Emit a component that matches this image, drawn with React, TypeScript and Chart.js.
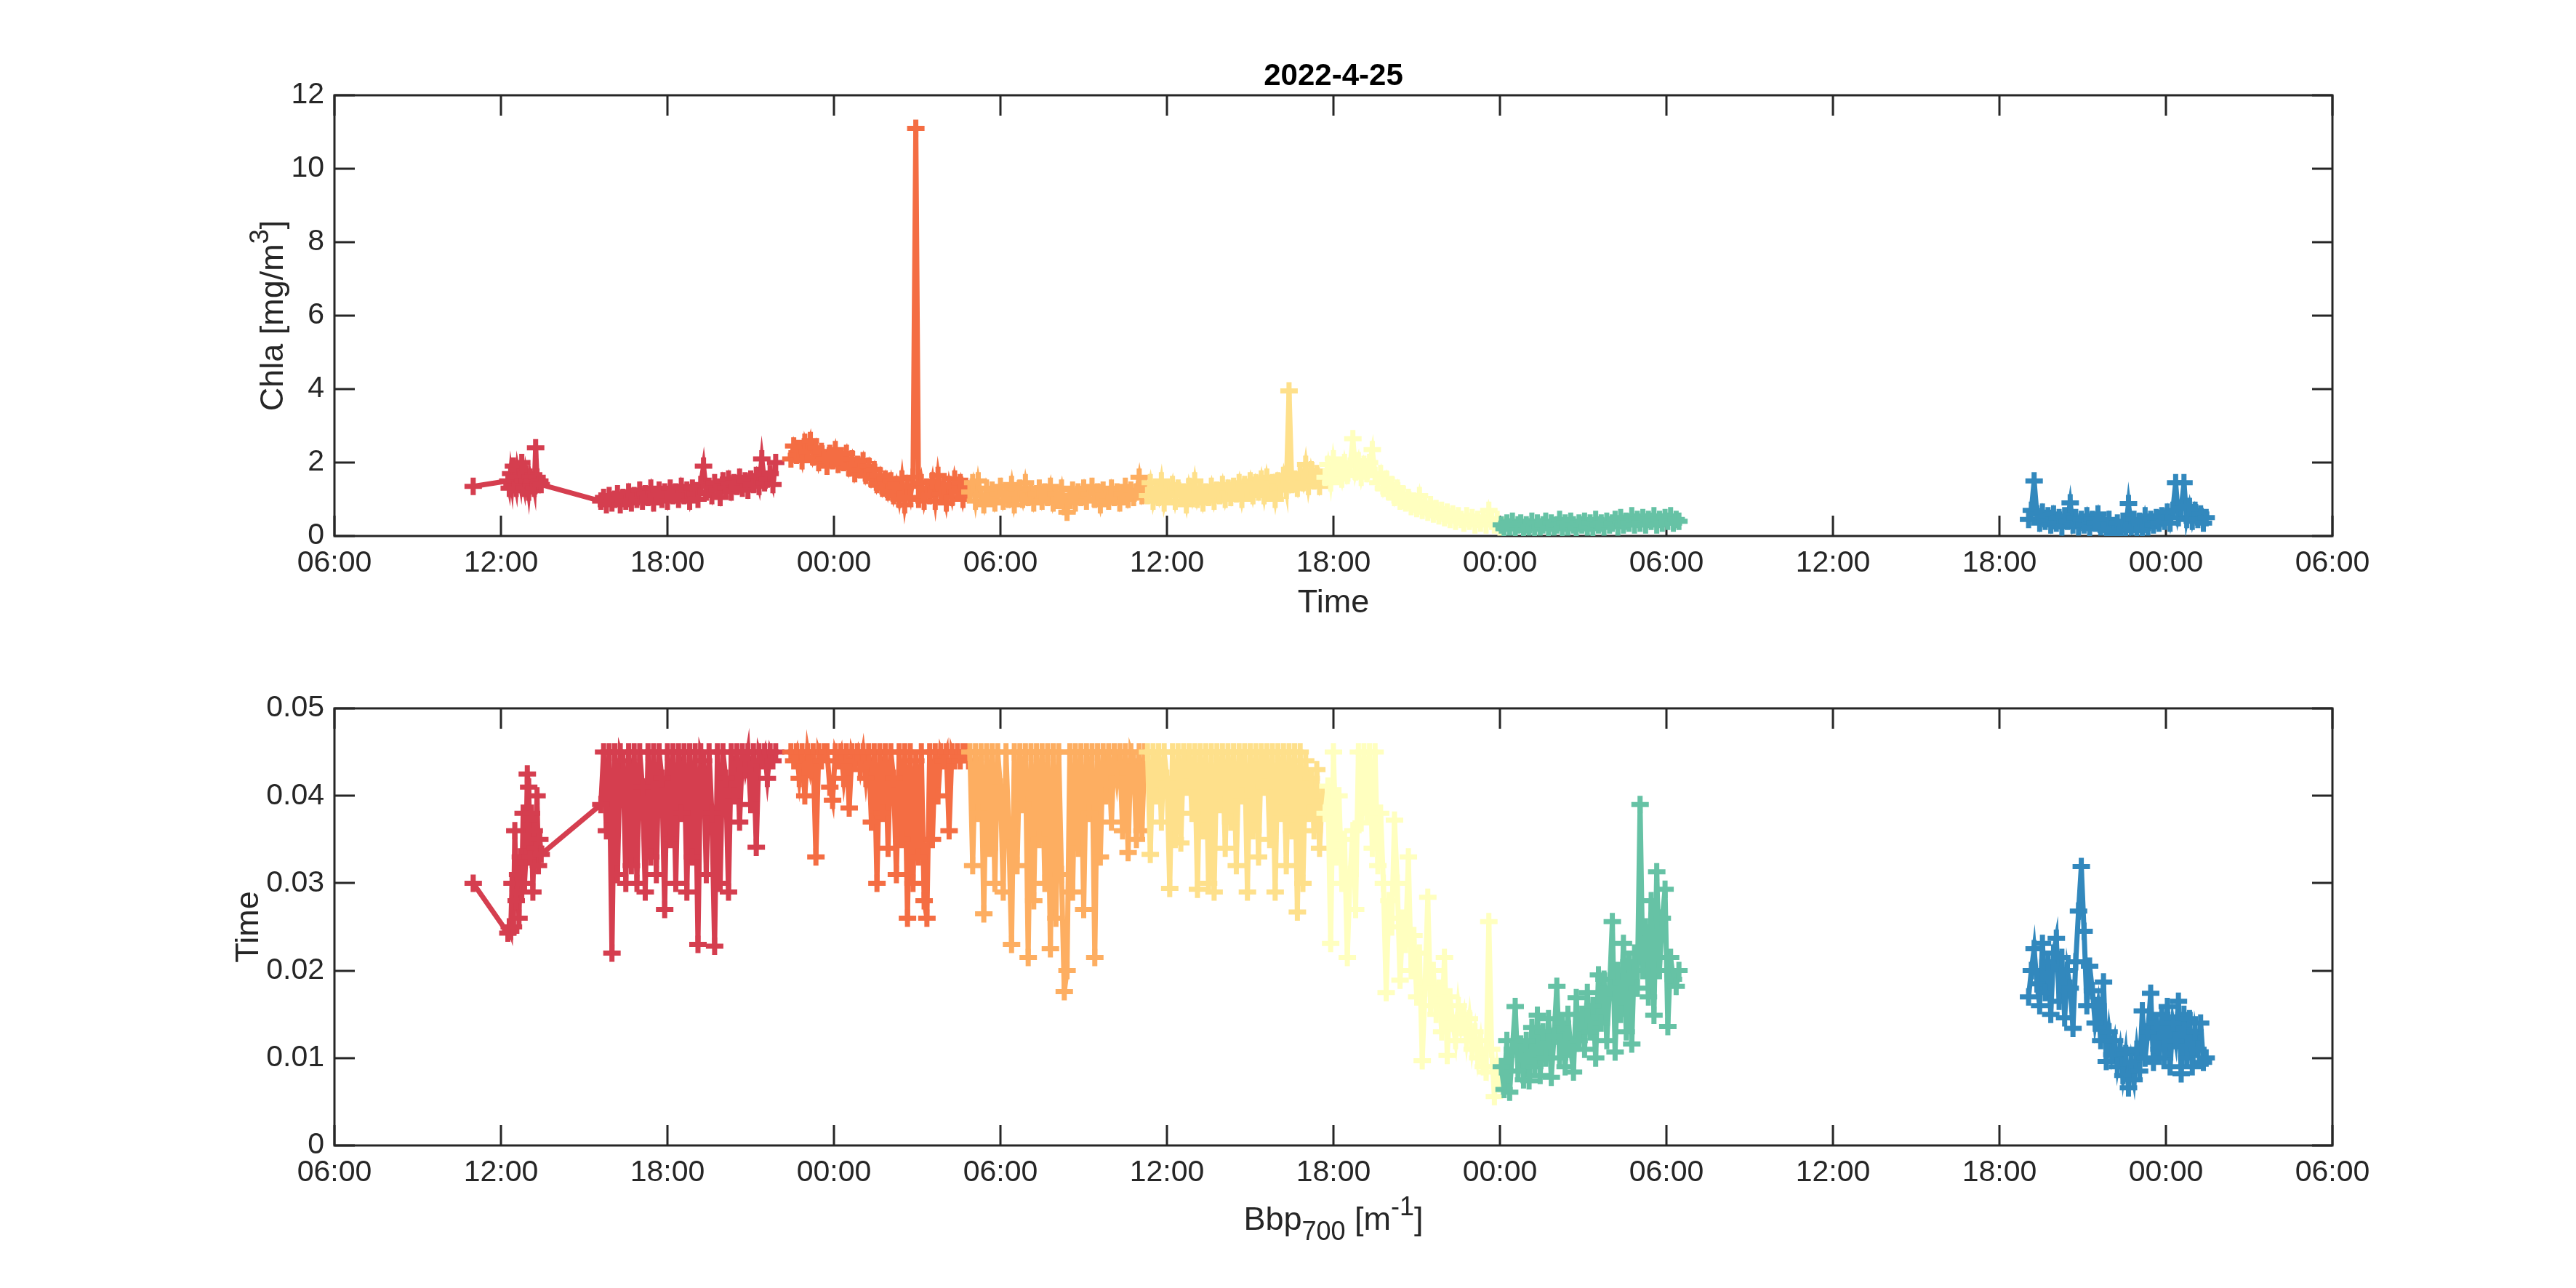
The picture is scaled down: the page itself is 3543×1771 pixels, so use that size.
import React, { useEffect, useRef } from 'react';
import { Chart, registerables } from 'chart.js';

Chart.register(...registerables);

const FONT = '"Liberation Sans", Arial, Helvetica, sans-serif';
const AXIS_COLOR = '#262626';

// ---------- axes ticks ----------
const xTickHours = [0, 6, 12, 18, 24, 30, 36, 42, 48, 54, 60, 66, 72];
const chlaTicks = [0, 2, 4, 6, 8, 10, 12];
const bbpTicks = [0, 0.01, 0.02, 0.03, 0.04, 0.05];
const titleText = '2022-4-25';

// ---------- segment colours (Spectral) ----------
const segmentColors = ['#D53E4F', '#F46D43', '#FDAE61', '#FEE08B', '#FFFFBF', '#66C2A5', '#3288BD'];

// time in hours after 06:00 of the first day
const redTime = [5.0,
  6.25, 6.3, 6.35, 6.4, 6.45, 6.5, 6.55, 6.6, 6.65, 6.7, 6.75, 6.8, 6.85, 6.9, 6.95, 7.0, 7.05, 7.1, 7.15, 7.2, 7.25, 7.3, 7.35, 7.4, 7.45,
  9.6, 9.7, 9.8, 9.9, 10.0, 10.1, 10.2, 10.3, 10.4, 10.5,
  10.6, 10.7, 10.8, 10.9, 11.0, 11.1, 11.2, 11.3, 11.4, 11.5,
  11.6, 11.7, 11.8, 11.9, 12.0, 12.1, 12.2, 12.3, 12.4, 12.5,
  12.6, 12.7, 12.8, 12.9, 13.0, 13.1, 13.2, 13.3, 13.4, 13.5,
  13.6, 13.7, 13.8, 13.9, 14.0, 14.1, 14.2, 14.3, 14.4, 14.5,
  14.6, 14.7, 14.8, 14.9, 15.0, 15.1, 15.2, 15.3, 15.4, 15.5,
  15.6, 15.7, 15.8, 15.9];
const redChla = [1.35,
  1.5, 1.3, 1.7, 1.4, 1.9, 1.5, 1.3, 1.8, 1.6, 1.4, 2.0, 1.5, 1.3, 1.7, 1.5, 1.2, 1.6, 1.4, 1.5, 1.3, 2.4, 1.6, 1.4, 1.5, 1.4,
  0.95, 1.05, 0.85, 1.10, 0.90, 1.00, 1.15, 0.85, 1.05, 0.95,
  1.20, 0.90, 1.10, 1.00, 1.25, 0.95, 1.15, 1.05, 1.30, 0.90,
  1.10, 1.25, 1.00, 1.20, 0.95, 1.30, 1.10, 1.20, 1.00, 1.35,
  1.10, 1.25, 0.95, 1.30, 1.15, 1.00, 1.40, 1.90, 1.20, 1.35,
  1.10, 1.45, 1.25, 1.05, 1.50, 1.30, 1.55, 1.20, 1.45, 1.35,
  1.60, 1.30, 1.50, 1.25, 1.55, 1.40, 1.65, 1.35, 2.10, 1.45,
  1.55, 1.70, 1.40, 2.00];
const redBbp = [0.0300,
  0.0243, 0.0250, 0.0245, 0.0300, 0.0250, 0.0360, 0.0280, 0.0310, 0.0260, 0.0330, 0.0290, 0.0380, 0.0300, 0.0330, 0.0425, 0.0410, 0.0330, 0.0380, 0.0290, 0.0360, 0.0340, 0.0400, 0.0320, 0.0350, 0.0333,
  0.0390, 0.0450, 0.0360, 0.0450, 0.0220, 0.0450, 0.0310, 0.0450, 0.0440, 0.0300,
  0.0450, 0.0320, 0.0450, 0.0300, 0.0450, 0.0410, 0.0290, 0.0450, 0.0330, 0.0450,
  0.0310, 0.0450, 0.0420, 0.0270, 0.0450, 0.0350, 0.0450, 0.0300, 0.0450, 0.0380,
  0.0450, 0.0290, 0.0450, 0.0330, 0.0450, 0.0230, 0.0450, 0.0440, 0.0310, 0.0450,
  0.0380, 0.0228, 0.0450, 0.0300, 0.0450, 0.0420, 0.0290, 0.0450, 0.0400, 0.0450,
  0.0370, 0.0450, 0.0430, 0.0450, 0.0390, 0.0450, 0.0341, 0.0450, 0.0440, 0.0450,
  0.0420, 0.0450, 0.0440, 0.0450];

const orangeTime = [
  16.45, 16.55, 16.65, 16.75, 16.85, 16.95, 17.05, 17.15, 17.25, 17.35,
  17.45, 17.55, 17.65, 17.75, 17.85, 17.95, 18.05, 18.15, 18.25, 18.35,
  18.45, 18.55, 18.65, 18.75, 18.85, 18.95, 19.05, 19.15, 19.25, 19.35,
  19.45, 19.55, 19.65, 19.75, 19.85, 19.95, 20.05, 20.15, 20.25, 20.35,
  20.45, 20.55, 20.65, 20.75, 20.85, 20.95, 21.05, 21.15, 21.25, 21.35,
  21.45, 21.55, 21.65, 21.75, 21.85, 21.95, 22.05, 22.15, 22.25, 22.35,
  22.45, 22.55, 22.65, 22.75, 22.85];
const orangeChla = [
  2.10, 2.45, 2.20, 2.35, 2.05, 2.55, 2.30, 2.60, 2.15, 2.40,
  2.00, 2.30, 2.10, 1.90, 2.25, 2.05, 2.35, 1.95, 2.15, 2.00,
  2.25, 1.85, 2.10, 1.70, 1.95, 1.80, 2.05, 1.65, 1.90, 1.55,
  1.80, 1.40, 1.65, 1.30, 1.55, 1.20, 1.50, 1.10, 1.40, 1.00,
  1.55, 0.85, 1.35, 1.05, 1.60, 11.10, 1.00, 1.45, 0.95, 1.30,
  1.10, 1.50, 0.95, 1.65, 1.15, 1.35, 0.90, 1.40, 1.05, 1.55,
  1.20, 1.45, 1.00, 1.35, 1.25];
const orangeBbp = [
  0.0450, 0.0440, 0.0450, 0.0420, 0.0450, 0.0400, 0.0450, 0.0430, 0.0450, 0.0330,
  0.0450, 0.0440, 0.0450, 0.0450, 0.0410, 0.0395, 0.0450, 0.0440, 0.0450, 0.0420,
  0.0450, 0.0386, 0.0450, 0.0440, 0.0450, 0.0430, 0.0450, 0.0420, 0.0450, 0.0370,
  0.0450, 0.0300, 0.0450, 0.0380, 0.0450, 0.0340, 0.0450, 0.0420, 0.0310, 0.0450,
  0.0350, 0.0450, 0.0260, 0.0450, 0.0300, 0.0440, 0.0330, 0.0450, 0.0280, 0.0260,
  0.0450, 0.0350, 0.0450, 0.0400, 0.0450, 0.0440, 0.0450, 0.0360, 0.0450, 0.0440,
  0.0450, 0.0440, 0.0450, 0.0450, 0.0440];

const lightOrangeTime = [
  22.9, 23.0, 23.1, 23.2, 23.3, 23.4, 23.5, 23.6, 23.7, 23.8,
  23.9, 24.0, 24.1, 24.2, 24.3, 24.4, 24.5, 24.6, 24.7, 24.8,
  24.9, 25.0, 25.1, 25.2, 25.3, 25.4, 25.5, 25.6, 25.7, 25.8,
  25.9, 26.0, 26.1, 26.2, 26.3, 26.4, 26.5, 26.6, 26.7, 26.8,
  26.9, 27.0, 27.1, 27.2, 27.3, 27.4, 27.5, 27.6, 27.7, 27.8,
  27.9, 28.0, 28.1, 28.2, 28.3, 28.4, 28.5, 28.6, 28.7, 28.8,
  28.9, 29.0, 29.1, 29.2];
const lightOrangeChla = [
  1.20, 1.45, 0.95, 1.50, 1.10, 0.85, 1.30, 1.05, 1.25, 0.90,
  1.15, 1.35, 0.95, 1.20, 1.00, 1.40, 0.85, 1.15, 1.30, 1.00,
  1.45, 1.05, 1.25, 0.90, 1.15, 1.30, 0.95, 1.20, 1.05, 1.35,
  0.90, 1.15, 1.00, 1.30, 0.80, 0.65, 1.10, 1.25, 0.90, 1.20,
  1.05, 1.30, 0.95, 1.15, 1.35, 1.00, 1.20, 0.85, 1.25, 1.10,
  0.95, 1.30, 1.05, 1.20, 0.90, 1.15, 1.35, 1.00, 1.25, 1.05,
  1.20, 1.60, 1.10, 1.30];
const lightOrangeBbp = [
  0.0450, 0.0320, 0.0450, 0.0380, 0.0450, 0.0265, 0.0450, 0.0340, 0.0450, 0.0300,
  0.0450, 0.0410, 0.0290, 0.0450, 0.0360, 0.0230, 0.0450, 0.0320, 0.0450, 0.0390,
  0.0450, 0.0215, 0.0450, 0.0280, 0.0450, 0.0350, 0.0450, 0.0300, 0.0450, 0.0225,
  0.0450, 0.0260, 0.0450, 0.0310, 0.0176, 0.0200, 0.0450, 0.0290, 0.0450, 0.0340,
  0.0450, 0.0270, 0.0450, 0.0380, 0.0450, 0.0215, 0.0450, 0.0330, 0.0450, 0.0400,
  0.0450, 0.0370, 0.0450, 0.0420, 0.0450, 0.0360, 0.0450, 0.0335, 0.0450, 0.0440,
  0.0350, 0.0450, 0.0360, 0.0450];

const yellowTime = [
  29.3, 29.4, 29.5, 29.6, 29.7, 29.8, 29.9, 30.0, 30.1, 30.2,
  30.3, 30.4, 30.5, 30.6, 30.7, 30.8, 30.9, 31.0, 31.1, 31.2,
  31.3, 31.4, 31.5, 31.6, 31.7, 31.8, 31.9, 32.0, 32.1, 32.2,
  32.3, 32.4, 32.5, 32.6, 32.7, 32.8, 32.9, 33.0, 33.1, 33.2,
  33.3, 33.4, 33.5, 33.6, 33.7, 33.8, 33.9, 34.0, 34.1, 34.2,
  34.3, 34.4, 34.5, 34.6, 34.7, 34.8, 34.9, 35.0, 35.1, 35.2,
  35.3, 35.4, 35.5, 35.6];
const yellowChla = [
  1.10, 1.45, 0.95, 1.30, 1.05, 1.50, 0.90, 1.25, 1.10, 1.40,
  0.95, 1.30, 1.10, 1.20, 0.85, 1.35, 1.05, 1.50, 1.00, 1.25,
  0.90, 1.20, 1.05, 1.35, 0.95, 1.25, 1.10, 1.40, 1.00, 1.30,
  1.05, 1.35, 1.15, 1.45, 1.00, 1.40, 1.20, 1.50, 1.10, 1.45,
  1.20, 1.55, 1.10, 1.60, 1.25, 1.45, 1.00, 1.50, 1.30, 1.65,
  1.25, 3.95, 1.40, 1.55, 1.30, 1.70, 1.45, 1.95, 1.35, 1.80,
  1.50, 1.70, 1.35, 1.60];
const yellowBbp = [
  0.0450, 0.0333, 0.0450, 0.0400, 0.0450, 0.0370, 0.0450, 0.0420, 0.0294, 0.0450,
  0.0350, 0.0450, 0.0346, 0.0450, 0.0410, 0.0450, 0.0380, 0.0450, 0.0293, 0.0450,
  0.0360, 0.0450, 0.0300, 0.0450, 0.0290, 0.0450, 0.0390, 0.0450, 0.0340, 0.0450,
  0.0370, 0.0450, 0.0320, 0.0450, 0.0400, 0.0450, 0.0290, 0.0450, 0.0360, 0.0450,
  0.0330, 0.0450, 0.0410, 0.0450, 0.0350, 0.0450, 0.0290, 0.0450, 0.0380, 0.0450,
  0.0320, 0.0450, 0.0360, 0.0450, 0.0267, 0.0450, 0.0300, 0.0440, 0.0380, 0.0420,
  0.0360, 0.0430, 0.0340, 0.0400];

const paleYellowTime = [
  35.7, 35.8, 35.9, 36.0, 36.1, 36.2, 36.3, 36.4, 36.5, 36.6,
  36.7, 36.8, 36.9, 37.0, 37.1, 37.2, 37.3, 37.4, 37.5, 37.6,
  37.7, 37.8, 37.9, 38.0, 38.1, 38.2, 38.3, 38.4, 38.5, 38.6,
  38.7, 38.8, 38.9, 39.0, 39.1, 39.2, 39.3, 39.4, 39.5, 39.6,
  39.7, 39.8, 39.9, 40.0, 40.1, 40.2, 40.3, 40.4, 40.5, 40.6,
  40.7, 40.8, 40.9, 41.0, 41.1, 41.2, 41.3, 41.4, 41.5, 41.6,
  41.7, 41.8, 41.9, 42.0];
const paleYellowChla = [
  1.60, 1.95, 1.45, 2.10, 1.70, 1.85, 1.55, 2.00, 1.65, 1.90,
  2.65, 1.75, 2.05, 1.60, 1.95, 1.70, 2.00, 2.35, 1.65, 1.45,
  1.70, 1.30, 1.55, 1.20, 1.40, 1.05, 1.30, 0.95, 1.15, 0.90,
  1.05, 0.80, 0.95, 0.75, 1.10, 0.70, 0.90, 0.65, 0.85, 0.60,
  0.75, 0.55, 0.70, 0.50, 0.65, 0.45, 0.60, 0.40, 0.55, 0.45,
  0.35, 0.55, 0.40, 0.50, 0.30, 0.45, 0.35, 0.50, 0.30, 0.70,
  0.40, 0.30, 0.45, 0.25];
const paleYellowBbp = [
  0.0380, 0.0411, 0.0231, 0.0450, 0.0330, 0.0400, 0.0300, 0.0350, 0.0215, 0.0310,
  0.0360, 0.0270, 0.0450, 0.0369, 0.0450, 0.0380, 0.0450, 0.0340, 0.0450, 0.0320,
  0.0380, 0.0300, 0.0175, 0.0280, 0.0250, 0.0372, 0.0300, 0.0189, 0.0260, 0.0230,
  0.0330, 0.0200, 0.0240, 0.0170, 0.0220, 0.0097, 0.0180, 0.0284, 0.0160, 0.0200,
  0.0150, 0.0180, 0.0130, 0.0215, 0.0103, 0.0170, 0.0140, 0.0120, 0.0160, 0.0135,
  0.0150, 0.0120, 0.0145, 0.0110, 0.0130, 0.0100, 0.0120, 0.0090, 0.0084, 0.0256,
  0.0110, 0.0056, 0.0090, 0.0070];

const greenTime = [
  42.05, 42.15, 42.25, 42.35, 42.45, 42.55, 42.65, 42.75, 42.85, 42.95,
  43.05, 43.15, 43.25, 43.35, 43.45, 43.55, 43.65, 43.75, 43.85, 43.95,
  44.05, 44.15, 44.25, 44.35, 44.45, 44.55, 44.65, 44.75, 44.85, 44.95,
  45.05, 45.15, 45.25, 45.35, 45.45, 45.55, 45.65, 45.75, 45.85, 45.95,
  46.05, 46.15, 46.25, 46.35, 46.45, 46.55, 46.65, 46.75, 46.85, 46.95,
  47.05, 47.15, 47.25, 47.35, 47.45, 47.55, 47.65, 47.75, 47.85, 47.95,
  48.05, 48.15, 48.25, 48.35, 48.45];
const greenChla = [
  0.30, 0.20, 0.35, 0.25, 0.40, 0.20, 0.30, 0.35, 0.15, 0.30,
  0.25, 0.40, 0.20, 0.35, 0.25, 0.30, 0.40, 0.20, 0.35, 0.25,
  0.30, 0.45, 0.20, 0.35, 0.25, 0.40, 0.30, 0.20, 0.35, 0.30,
  0.40, 0.25, 0.35, 0.20, 0.45, 0.30, 0.35, 0.25, 0.40, 0.30,
  0.35, 0.45, 0.25, 0.50, 0.30, 0.40, 0.35, 0.55, 0.30, 0.45,
  0.35, 0.50, 0.30, 0.45, 0.40, 0.55, 0.30, 0.45, 0.35, 0.50,
  0.40, 0.55, 0.35, 0.45, 0.40];
const greenBbp = [
  0.0090, 0.0064, 0.0120, 0.0061, 0.0110, 0.0159, 0.0085, 0.0116, 0.0075, 0.0120,
  0.0074, 0.0135, 0.0090, 0.0149, 0.0080, 0.0130, 0.0100, 0.0145, 0.0078, 0.0125,
  0.0182, 0.0100, 0.0140, 0.0090, 0.0150, 0.0110, 0.0084, 0.0169, 0.0120, 0.0150,
  0.0110, 0.0175, 0.0130, 0.0160, 0.0100, 0.0195, 0.0140, 0.0190, 0.0120, 0.0180,
  0.0256, 0.0107, 0.0200, 0.0150, 0.0231, 0.0130, 0.0210, 0.0116, 0.0220, 0.0180,
  0.0390, 0.0200, 0.0250, 0.0170, 0.0280, 0.0149, 0.0313, 0.0200, 0.0260, 0.0293,
  0.0136, 0.0215, 0.0190, 0.0182, 0.0200];

const blueTime = [
  61.05, 61.15, 61.25, 61.35, 61.45, 61.55, 61.65, 61.75, 61.85, 61.95,
  62.05, 62.15, 62.25, 62.35, 62.45, 62.55, 62.65, 62.75, 62.85, 62.95,
  63.05, 63.15, 63.25, 63.35, 63.45, 63.55, 63.65, 63.75, 63.85, 63.95,
  64.05, 64.15, 64.25, 64.35, 64.45, 64.55, 64.65, 64.75, 64.85, 64.95,
  65.05, 65.15, 65.25, 65.35, 65.45, 65.55, 65.65, 65.75, 65.85, 65.95,
  66.05, 66.15, 66.25, 66.35, 66.45, 66.55, 66.65, 66.75, 66.85, 66.95,
  67.05, 67.15, 67.25, 67.35, 67.45];
const blueChla = [
  0.45, 0.70, 1.50, 0.60, 0.35, 0.65, 0.40, 0.55, 0.30, 0.60,
  0.35, 0.50, 0.25, 0.55, 0.40, 0.90, 0.30, 0.50, 0.25, 0.45,
  0.30, 0.55, 0.20, 0.45, 0.35, 0.60, 0.25, 0.40, 0.15, 0.45,
  0.20, 0.05, 0.35, 0.15, 0.40, 0.20, 0.88, 0.25, 0.45, 0.15,
  0.40, 0.20, 0.55, 0.25, 0.45, 0.30, 0.50, 0.35, 0.55, 0.40,
  0.65, 0.35, 0.70, 1.45, 0.50, 0.75, 1.45, 0.45, 0.80, 0.40,
  0.70, 0.45, 0.60, 0.35, 0.50];
const blueBbp = [
  0.0170, 0.0200, 0.0225, 0.0185, 0.0160, 0.0231, 0.0175, 0.0210, 0.0150, 0.0220,
  0.0237, 0.0165, 0.0215, 0.0146, 0.0200, 0.0180, 0.0134, 0.0210, 0.0268, 0.0319,
  0.0245, 0.0160, 0.0205, 0.0177, 0.0140, 0.0160, 0.0120, 0.0187, 0.0096, 0.0130,
  0.0104, 0.0120, 0.0090, 0.0110, 0.0080, 0.0105, 0.0066, 0.0095, 0.0075, 0.0110,
  0.0085, 0.0154, 0.0100, 0.0130, 0.0174, 0.0095, 0.0140, 0.0110, 0.0150, 0.0100,
  0.0159, 0.0090, 0.0140, 0.0120, 0.0165, 0.0082, 0.0150, 0.0100, 0.0145, 0.0090,
  0.0130, 0.0110, 0.0140, 0.0095, 0.0100];

const segmentTimes = [redTime, orangeTime, lightOrangeTime, yellowTime, paleYellowTime, greenTime, blueTime];
const segmentChla = [redChla, orangeChla, lightOrangeChla, yellowChla, paleYellowChla, greenChla, blueChla];
const segmentBbp = [redBbp, orangeBbp, lightOrangeBbp, yellowBbp, paleYellowBbp, greenBbp, blueBbp];

// ---------- helpers ----------
type Part = { t: string; s?: number; dy?: number };

function drawRich(ctx: CanvasRenderingContext2D, parts: Part[], cx: number, cy: number, size: number, rotate: boolean, weight = 'normal', color = AXIS_COLOR) {
  ctx.save();
  ctx.translate(cx, cy);
  if (rotate) ctx.rotate(-Math.PI / 2);
  ctx.fillStyle = color;
  ctx.textBaseline = 'alphabetic';
  ctx.textAlign = 'left';
  const widths = parts.map((p) => {
    ctx.font = `${weight} ${Math.round(size * (p.s ?? 1))}px ${FONT}`;
    return ctx.measureText(p.t).width;
  });
  const total = widths.reduce((a, b) => a + b, 0);
  let x = -total / 2;
  parts.forEach((p, i) => {
    ctx.font = `${weight} ${Math.round(size * (p.s ?? 1))}px ${FONT}`;
    ctx.fillText(p.t, x, (p.dy ?? 0) * size);
    x += widths[i];
  });
  ctx.restore();
}

function fmtHour(v: number) {
  const h = ((Math.round(v) + 6) % 24 + 24) % 24;
  return (h < 10 ? '0' : '') + h + ':00';
}

type LabelSpec = {
  title?: Part[];
  titleY?: number;
  xLabel: Part[];
  xLabelY: number;
  yLabel: Part[];
  yLabelX: number;
};

function makeDecor(spec: LabelSpec) {
  return {
    id: 'matlabDecor',
    beforeDatasetsDraw(chart: any) {
      const { ctx, chartArea: a, scales } = chart;
      const TL = 28;
      ctx.save();
      ctx.strokeStyle = AXIS_COLOR;
      ctx.lineWidth = 3;
      ctx.lineCap = 'butt';
      ctx.beginPath();
      for (const t of scales.x.ticks) {
        const px = Math.round(scales.x.getPixelForValue(t.value));
        ctx.moveTo(px, a.bottom);
        ctx.lineTo(px, a.bottom - TL);
        ctx.moveTo(px, a.top);
        ctx.lineTo(px, a.top + TL);
      }
      for (const t of scales.y.ticks) {
        const py = Math.round(scales.y.getPixelForValue(t.value));
        ctx.moveTo(a.left, py);
        ctx.lineTo(a.left + TL, py);
        ctx.moveTo(a.right, py);
        ctx.lineTo(a.right - TL, py);
      }
      ctx.stroke();
      ctx.strokeRect(a.left, a.top, a.right - a.left, a.bottom - a.top);
      ctx.restore();
    },
    afterDraw(chart: any) {
      const { ctx, chartArea: a } = chart;
      const cx = (a.left + a.right) / 2;
      const cy = (a.top + a.bottom) / 2;
      if (spec.title) drawRich(ctx, spec.title, cx, spec.titleY ?? 0, 42, false, 'bold', '#000');
      drawRich(ctx, spec.xLabel, cx, spec.xLabelY, 45, false);
      drawRich(ctx, spec.yLabel, spec.yLabelX, cy, 45, true);
    },
  };
}

function makeConfig(times: number[][], values: number[][], yTicks: number[], yFmt: (v: number) => string,
  pad: { top: number; right: number }, xHeight: number, spec: LabelSpec): any {
  const datasets = times.map((ts, i) => ({
    data: ts.map((t, j) => ({ x: t, y: values[i][j] })),
    borderColor: segmentColors[i],
    backgroundColor: segmentColors[i],
    borderWidth: 7,
    pointStyle: 'cross',
    pointRadius: 12,
    pointBorderWidth: 7,
    pointBorderColor: segmentColors[i],
    tension: 0,
    fill: false,
    order: times.length - i,
  }));
  const tickFont = { family: FONT, size: 41 };
  return {
    type: 'line',
    data: { datasets },
    options: {
      responsive: false,
      maintainAspectRatio: false,
      animation: false,
      devicePixelRatio: 1,
      events: [],
      layout: { padding: { left: 0, right: pad.right, top: pad.top, bottom: 0 } },
      plugins: { legend: { display: false }, tooltip: { enabled: false }, title: { display: false } },
      scales: {
        x: {
          type: 'linear',
          min: xTickHours[0],
          max: xTickHours[xTickHours.length - 1],
          afterBuildTicks: (s: any) => { s.ticks = xTickHours.map((v) => ({ value: v })); },
          afterFit: (s: any) => { s.height = xHeight; },
          ticks: { callback: (v: number) => fmtHour(v), font: tickFont, color: AXIS_COLOR, padding: 13, maxRotation: 0, autoSkip: false },
          grid: { display: false, drawTicks: false, tickLength: 0 },
          border: { display: false },
        },
        y: {
          type: 'linear',
          min: yTicks[0],
          max: yTicks[yTicks.length - 1],
          afterBuildTicks: (s: any) => { s.ticks = yTicks.map((v) => ({ value: v })); },
          afterFit: (s: any) => { s.width = 460; },
          ticks: { callback: (v: number) => yFmt(v), font: tickFont, color: AXIS_COLOR, padding: 14, autoSkip: false },
          grid: { display: false, drawTicks: false, tickLength: 0 },
          border: { display: false },
        },
      },
    },
    plugins: [makeDecor(spec)],
  };
}

export default function App() {
  const topRef = useRef<HTMLCanvasElement>(null);
  const botRef = useRef<HTMLCanvasElement>(null);

  useEffect(() => {
    const top = new Chart(topRef.current!, makeConfig(
      segmentTimes, segmentChla, chlaTicks, (v) => String(v),
      { top: 131, right: 3543 - 3208 }, 885 - 737,
      {
        title: [{ t: titleText }], titleY: 117,
        xLabel: [{ t: 'Time' }], xLabelY: 842,
        yLabel: [{ t: 'Chla [mg/m' }, { t: '3', s: 0.8, dy: -0.45 }, { t: ']' }], yLabelX: 389,
      },
    ));
    const bot = new Chart(botRef.current!, makeConfig(
      segmentTimes, segmentBbp, bbpTicks, (v) => (v === 0 ? '0' : v.toFixed(2)),
      { top: 974 - 885, right: 3543 - 3208 }, 1771 - 1575,
      {
        xLabel: [{ t: 'Bbp' }, { t: '700', s: 0.8, dy: 0.3 }, { t: ' [m' }, { t: '-1', s: 0.8, dy: -0.45 }, { t: ']' }], xLabelY: 1691 - 885,
        yLabel: [{ t: 'Time' }], yLabelX: 355,
      },
    ));
    return () => { top.destroy(); bot.destroy(); };
  }, []);

  return (
    <div style={{ position: 'fixed', left: 0, top: 0, width: 3543, height: 1771, background: '#ffffff', overflow: 'hidden' }}>
      <canvas ref={topRef} width={3543} height={885} style={{ position: 'absolute', left: 0, top: 0, width: 3543, height: 885 }} />
      <canvas ref={botRef} width={3543} height={886} style={{ position: 'absolute', left: 0, top: 885, width: 3543, height: 886 }} />
    </div>
  );
}
